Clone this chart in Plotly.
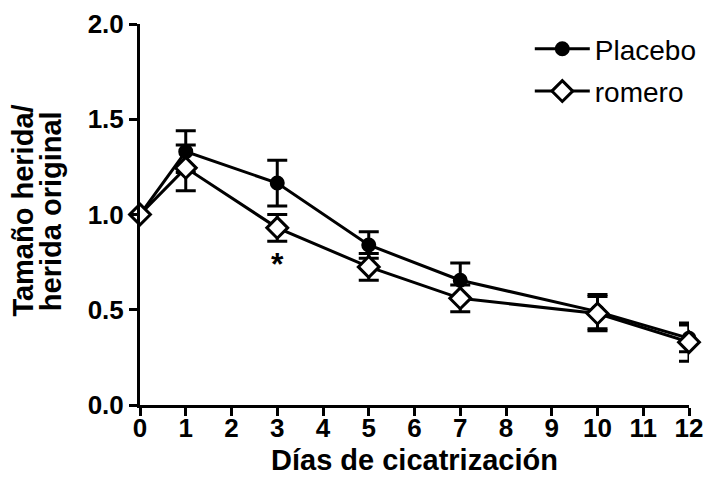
import plotly.graph_objects as go

days = [0, 1, 3, 5, 7, 10, 12]
placebo = [1.0, 1.33, 1.165, 0.84, 0.655, 0.49, 0.35]
placebo_err = [0.0, 0.11, 0.12, 0.07, 0.09, 0.09, 0.07]
romero = [1.0, 1.245, 0.93, 0.725, 0.56, 0.48, 0.33]
romero_err = [0.0, 0.12, 0.07, 0.07, 0.07, 0.09, 0.10]
x_ticks = list(range(0, 13))
y_ticks = [0.0, 0.5, 1.0, 1.5, 2.0]
y_title_lines = ["Tamaño herida/", "herida original"]
x_title = "Días de cicatrización"

FONT = "Liberation Sans, Arial, sans-serif"

W, H = 706, 471
ML, MR, MT, MB = 132, 16, 16, 74
PW = W - ML - MR
PH = H - MT - MB

fig = go.Figure()
fig.add_trace(go.Scatter(
    x=days, y=placebo, name="Placebo", mode="lines+markers",
    legendgroup="a",
    line=dict(color="black", width=3),
    marker=dict(symbol="circle", size=13, color="black", line=dict(color="black", width=2)),
    error_y=dict(type="data", array=placebo_err, color="black", thickness=3, width=10),
    cliponaxis=False,
))
fig.add_trace(go.Scatter(
    x=days, y=romero, name="romero", mode="lines+markers",
    legendgroup="b",
    line=dict(color="black", width=3),
    marker=dict(symbol="diamond", size=16, color="white", line=dict(color="black", width=3)),
    error_y=dict(type="data", array=romero_err, color="black", thickness=3, width=10),
    cliponaxis=False,
))

fig.add_annotation(x=3, y=0.74, text="<b>*</b>", showarrow=False,
                   font=dict(family=FONT, size=32, color="black"))

# axis titles as tight two-line annotations
fig.add_annotation(xref="paper", yref="paper", x=-119 / PW, y=0.51, text="<b>%s</b>" % y_title_lines[0],
                   textangle=-90, showarrow=False, xanchor="center", yanchor="middle",
                   font=dict(family=FONT, size=29, color="black"))
fig.add_annotation(xref="paper", yref="paper", x=-91 / PW, y=0.51, text="<b>%s</b>" % y_title_lines[1],
                   textangle=-90, showarrow=False, xanchor="center", yanchor="middle",
                   font=dict(family=FONT, size=29, color="black"))
fig.add_annotation(xref="paper", yref="paper", x=0.5, y=-(MB - 1) / PH, text="<b>%s</b>" % x_title,
                   showarrow=False, xanchor="center", yanchor="bottom",
                   font=dict(family=FONT, size=29, color="black"))

fig.update_layout(
    width=W, height=H,
    margin=dict(l=ML, r=MR, t=MT, b=MB),
    paper_bgcolor="white", plot_bgcolor="white",
    font=dict(family=FONT, color="black"),
    showlegend=True,
    legend=dict(x=0.71, y=1.0, xanchor="left", yanchor="top",
                font=dict(family=FONT, size=28, color="black"),
                itemwidth=55,
                tracegroupgap=3, bgcolor="rgba(0,0,0,0)"),
    xaxis=dict(range=[0, 12], tickvals=x_ticks, ticktext=[str(t) for t in x_ticks],
               automargin=False,
               showgrid=False, zeroline=False, showline=True, linecolor="black", linewidth=3,
               ticks="outside", ticklen=8, tickwidth=3, tickcolor="black",
               ticklabeloverflow="allow", ticklabelstandoff=-10,
               tickfont=dict(family=FONT, size=26, color="black", weight="bold")),
    yaxis=dict(range=[0, 2], tickvals=y_ticks, ticktext=["0.0", "0.5", "1.0", "1.5", "2.0"],
               automargin=False,
               showgrid=False, zeroline=False, showline=True, linecolor="black", linewidth=3,
               ticks="outside", ticklen=8, tickwidth=3, tickcolor="black",
               ticklabeloverflow="allow",
               tickfont=dict(family=FONT, size=26, color="black", weight="bold")),
)

fig.write_html("out.html")
